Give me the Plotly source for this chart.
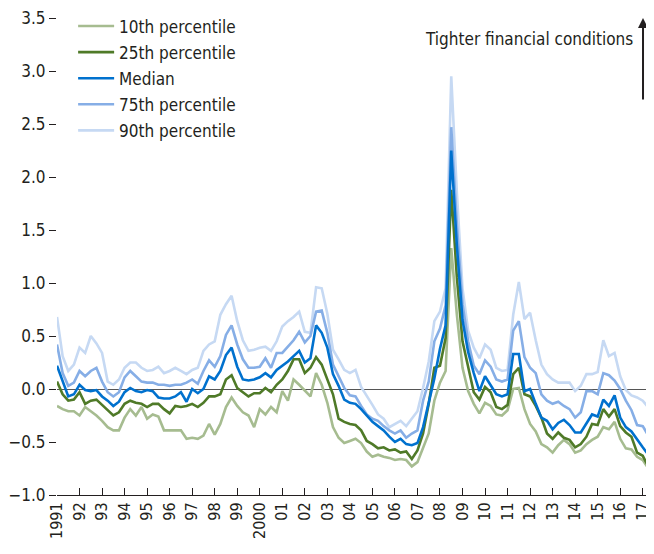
import plotly.graph_objects as go

start_year = 1991
p10 = [-0.16,-0.19,-0.21,-0.21,-0.25,-0.17,-0.21,-0.25,-0.30,-0.36,-0.39,-0.39,-0.27,-0.19,-0.25,-0.17,-0.28,
       -0.24,-0.26,-0.39,-0.39,-0.39,-0.39,-0.47,-0.46,-0.47,-0.44,-0.33,-0.43,-0.33,-0.17,-0.08,-0.16,-0.22,-0.25,-0.36,-0.19,
       -0.24,-0.17,-0.22,-0.02,-0.11,0.09,0.04,-0.02,-0.07,0.15,0.04,-0.13,-0.36,-0.46,-0.51,-0.49,-0.47,
       -0.51,-0.59,-0.64,-0.62,-0.64,-0.65,-0.67,-0.66,-0.67,-0.73,-0.69,-0.56,-0.42,-0.11,0.06,0.17,
       1.33,0.70,0.20,-0.02,-0.14,-0.23,-0.13,-0.16,-0.24,-0.25,-0.20,0.0,0.01,-0.19,-0.33,-0.40,-0.52,-0.55,-0.60,-0.53,
       -0.48,-0.52,-0.60,-0.58,-0.52,-0.48,-0.45,-0.36,-0.38,-0.31,-0.47,-0.56,-0.57,-0.64,-0.67,-0.75,-0.75]
p25 = [0.07,-0.05,-0.11,-0.10,-0.03,-0.14,-0.11,-0.10,-0.15,-0.20,-0.25,-0.22,-0.14,-0.11,-0.13,-0.14,-0.17,
       -0.14,-0.14,-0.19,-0.23,-0.16,-0.17,-0.16,-0.14,-0.17,-0.13,-0.07,-0.07,-0.05,0.09,0.13,0.01,-0.03,-0.07,-0.04,-0.04,
       0.01,-0.03,0.04,0.09,0.17,0.28,0.28,0.15,0.20,0.30,0.23,0.09,-0.05,-0.28,-0.31,-0.33,-0.34,
       -0.39,-0.49,-0.52,-0.56,-0.55,-0.58,-0.57,-0.60,-0.59,-0.66,-0.58,-0.42,-0.14,0.20,0.22,0.48,
       1.88,1.05,0.45,0.22,-0.03,-0.10,0.02,-0.03,-0.17,-0.19,-0.15,0.14,0.20,-0.05,-0.07,-0.16,-0.27,-0.42,-0.47,-0.41,
       -0.46,-0.48,-0.55,-0.52,-0.45,-0.33,-0.34,-0.19,-0.26,-0.19,-0.35,-0.41,-0.45,-0.60,-0.63,-0.73,-0.69]
median = [0.22,0.07,-0.07,-0.05,0.04,-0.01,-0.02,-0.01,-0.07,-0.11,-0.16,-0.12,-0.03,0.01,-0.02,-0.03,-0.01,
          -0.02,-0.08,-0.09,-0.09,-0.07,-0.03,-0.12,0.0,-0.04,0.0,0.12,0.09,0.17,0.32,0.39,0.21,0.09,0.08,0.09,0.11,
          0.15,0.11,0.18,0.22,0.26,0.31,0.36,0.25,0.29,0.60,0.53,0.39,0.14,0.03,-0.10,-0.13,-0.14,
          -0.19,-0.25,-0.31,-0.35,-0.39,-0.45,-0.50,-0.47,-0.52,-0.53,-0.51,-0.36,-0.14,0.10,0.38,0.60,
          2.25,1.35,0.65,0.35,0.15,-0.02,0.12,0.04,-0.05,-0.07,-0.05,0.33,0.33,-0.02,0.0,-0.14,-0.27,-0.30,-0.38,-0.32,
          -0.29,-0.34,-0.41,-0.41,-0.33,-0.24,-0.26,-0.10,-0.16,-0.06,-0.27,-0.36,-0.40,-0.48,-0.55,-0.62,-0.62]
p75 = [0.42,0.15,0.03,0.06,0.17,0.12,0.17,0.20,0.07,-0.03,-0.07,-0.03,0.11,0.17,0.12,0.07,0.06,
       0.06,0.04,0.04,0.03,0.04,0.04,0.06,0.09,0.05,0.17,0.27,0.21,0.31,0.51,0.60,0.42,0.28,0.20,0.20,0.21,
       0.29,0.20,0.34,0.34,0.40,0.46,0.54,0.44,0.50,0.73,0.74,0.53,0.23,0.12,0.01,-0.06,-0.07,
       -0.16,-0.24,-0.28,-0.30,-0.35,-0.39,-0.42,-0.39,-0.46,-0.42,-0.39,-0.11,0.07,0.45,0.57,0.79,
       2.47,1.55,0.80,0.45,0.22,0.14,0.27,0.21,0.09,0.07,0.09,0.55,0.64,0.30,0.20,0.15,-0.05,-0.11,-0.14,-0.12,
       -0.16,-0.19,-0.27,-0.22,-0.02,-0.02,-0.05,0.15,0.13,0.08,0.0,-0.11,-0.20,-0.34,-0.35,-0.44,-0.33]
p90 = [0.68,0.31,0.17,0.23,0.39,0.34,0.50,0.43,0.34,0.07,0.04,0.09,0.20,0.25,0.25,0.20,0.17,
       0.18,0.21,0.15,0.17,0.20,0.17,0.14,0.18,0.20,0.36,0.42,0.45,0.70,0.80,0.88,0.64,0.46,0.36,0.37,0.39,
       0.40,0.36,0.45,0.59,0.64,0.68,0.73,0.54,0.53,0.96,0.95,0.71,0.37,0.28,0.18,0.15,0.18,
       0.02,-0.06,-0.15,-0.24,-0.28,-0.36,-0.33,-0.30,-0.35,-0.28,-0.21,0.01,0.26,0.64,0.73,0.95,
       2.95,1.85,0.95,0.55,0.39,0.29,0.42,0.37,0.20,0.17,0.18,0.70,1.01,0.66,0.72,0.46,0.23,0.14,0.09,0.06,
       0.06,0.06,-0.02,0.03,0.14,0.14,0.16,0.46,0.31,0.34,0.12,-0.01,-0.06,-0.08,-0.11,-0.18,-0.24]

series_names = ["10th percentile", "25th percentile", "Median", "75th percentile", "90th percentile"]
tick_years = list(range(1991, 2018))
tick_labels = [str(y) if y in (1991, 2000) else f"{y % 100:02d}" for y in tick_years]
y_ticks = [-1.0, -0.5, 0.0, 0.5, 1.0, 1.5, 2.0, 2.5, 3.0, 3.5]

x = [start_year + i / 4 for i in range(len(median))]

colors = ["#A6BC90", "#4F7A28", "#0071CE", "#86AEE6", "#C6D9F3"]
data = [p10, p25, median, p75, p90]

FONT = "DejaVu Sans Condensed, sans-serif"
TXT = "#231F20"
fig = go.Figure()
order = [4, 3, 0, 1, 2]
for k in order:
    fig.add_trace(go.Scatter(x=x, y=data[k], mode="lines", name=series_names[k],
                             legendgroup=series_names[k],
                             line=dict(color=colors[k], width=2.6), legendrank=k + 1))

# page body has an 8px default margin, so the figure is sized to fit the window
fig.update_layout(
    width=646, height=546,
    margin=dict(l=49, r=0, t=10, b=59),
    plot_bgcolor="white", paper_bgcolor="white",
    font=dict(family=FONT, size=17, color=TXT),
    showlegend=True,
    legend=dict(x=0.027, y=1.02, xanchor="left", yanchor="top", bgcolor="rgba(0,0,0,0)",
                font=dict(size=17), traceorder="grouped", itemwidth=36, tracegroupgap=1),
    xaxis=dict(range=[1991, 2017.5], tickmode="array", tickvals=tick_years, ticktext=tick_labels,
               tickangle=-90, ticks="inside", ticklen=7, tickcolor=TXT, tickwidth=1,
               showline=True, linecolor=TXT, linewidth=1, showgrid=False, zeroline=False,
               automargin=False, ticklabeloverflow="allow", tickfont=dict(size=16)),
    yaxis=dict(range=[-1.0, 3.5], tickmode="array", tickvals=y_ticks,
               ticktext=[f"{v:.1f}".replace("-", "\u2212") for v in y_ticks],
               ticks="outside", ticklen=7, tickcolor=TXT, tickwidth=1,
               showline=False, showgrid=False, zeroline=True, zerolinecolor="#555555",
               zerolinewidth=1, automargin=False, ticklabeloverflow="allow",
               tickfont=dict(size=17)),
)

fig.add_annotation(text="Tighter financial conditions", xref="paper", yref="paper",
                   x=0.968, y=0.957, xanchor="right", yanchor="middle", showarrow=False,
                   font=dict(size=17, family=FONT, color=TXT))
fig.add_annotation(text="", xref="paper", yref="paper", x=0.9816, y=1.0, ax=0, ay=83,
                   showarrow=True, arrowhead=2, arrowsize=1, arrowwidth=2, arrowcolor=TXT,
                   standoff=0, startstandoff=0)

fig.write_html("out.html")
